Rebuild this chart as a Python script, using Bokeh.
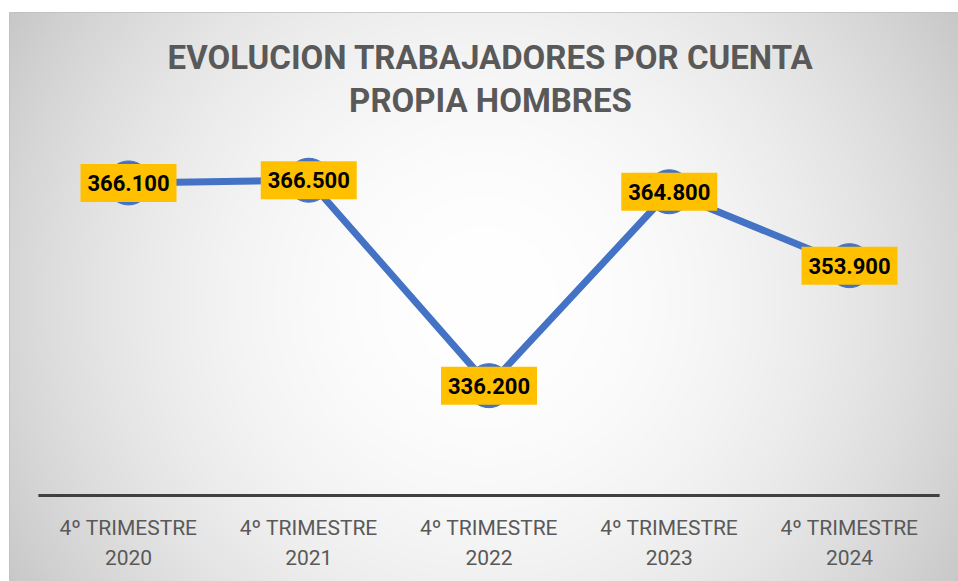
import numpy as np
from bokeh.plotting import figure
from bokeh.models import Range1d
from bokeh.core.properties import value
from bokeh.embed import file_html
from bokeh.resources import INLINE

# ---- data ----
title_lines = ["EVOLUCION TRABAJADORES POR CUENTA", "PROPIA HOMBRES"]
quarter_labels = ["4º TRIMESTRE", "4º TRIMESTRE", "4º TRIMESTRE", "4º TRIMESTRE", "4º TRIMESTRE"]
years = ["2020", "2021", "2022", "2023", "2024"]
values = [366100, 366500, 336200, 364800, 353900]
axis_min, axis_max = 320000, 370000

labels = [f"{v:,}".replace(",", ".") for v in values]
xs = list(range(len(values)))

# ---- geometry ----
W, H = 958, 581
top_b, left_b = 12, 9
FW, FH = W - left_b, H - top_b
y_min_px, y_max_px = 483.0, 144.0          # frame-relative pixel rows of axis_min / axis_max
k = (y_min_px - y_max_px) / (axis_max - axis_min)
y_end = axis_max + y_max_px / k
y_start = axis_min - (FH - y_min_px) / k
step = 180.25
x0_px = 119.0
x_start = -x0_px / step
x_end = (FW - x0_px) / step


def ydat(py):  # frame-relative pixel row -> data y
    return y_end - py / k


def xdat(px):  # frame-relative pixel col -> data x
    return x_start + px / step


p = figure(width=W, height=H, output_backend="svg", toolbar_location=None,
           x_range=Range1d(x_start, x_end), y_range=Range1d(y_start, y_end),
           min_border_left=left_b, min_border_top=top_b, min_border_right=0, min_border_bottom=0,
           border_fill_color="white", outline_line_color="#bfbfbf", outline_line_width=1)
p.axis.visible = False
p.grid.visible = False

# radial background gradient
nx, ny = 475, 285
gx = (np.arange(nx) + 0.5) * FW / nx
gy = (np.arange(ny) + 0.5) * FH / ny
GX, GY = np.meshgrid(gx, gy[::-1])
cx, cy = 475.0, 288.0
d2 = (GX - cx) ** 2 + (GY - cy) ** 2
v = np.clip(255 - 1.8e-4 * d2, 190, 255).astype(np.uint32)
img = (255 << 24) | (v << 16) | (v << 8) | v
p.image_rgba(image=[img.astype(np.uint32)], x=x_start, y=y_start, dw=x_end - x_start, dh=y_end - y_start)

# title
p.text(x=[xdat(481), xdat(481)], y=[ydat(45), ydat(88)], text=title_lines,
       text_font=value("Roboto"), text_font_style="bold", text_font_size="33px",
       text_color="#595959", text_align="center", text_baseline="middle")

# axis line
p.segment(x0=[-0.5], y0=[axis_min], x1=[len(values) - 0.5], y1=[axis_min],
          line_color="#404040", line_width=3)

# category labels
p.text(x=xs, y=[ydat(515)] * len(xs), text=quarter_labels,
       text_font=value("Roboto"), text_font_size="21px", text_color="#595959",
       text_align="center", text_baseline="middle")
p.text(x=xs, y=[ydat(545)] * len(xs), text=years,
       text_font=value("Roboto"), text_font_size="21px", text_color="#595959",
       text_align="center", text_baseline="middle")

# series
p.line(xs, values, line_color="#4472C4", line_width=7)
p.scatter(xs, values, size=44, marker="circle", fill_color="#4472C4", line_color="#4472C4")

# data labels
p.rect(x=xs, y=values, width=96, height=38, width_units="screen", height_units="screen",
       fill_color="#FFC000", line_color=None)
p.text(x=xs, y=values, text=labels, text_font=value("Roboto"), text_font_style="bold",
       text_font_size="22px", text_color="black", text_align="center", text_baseline="middle")

open("out.html", "w").write(file_html(p, INLINE))
